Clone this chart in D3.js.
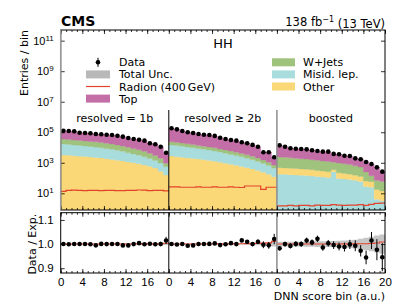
<!DOCTYPE html>
<html>
<head>
<meta charset="utf-8">
<script src="https://cdn.jsdelivr.net/npm/d3@7"></script>
<style>
    body { margin: 0; background: #fff; }
    svg { font-family: "DejaVu Sans", sans-serif; }
</style>
</head>
<body>
<div id="chart"></div>
<script>
/*
    Stacked DNN score histogram (three categories side by side) with a data / expectation ratio panel
 */

const categories = ["resolved = 1b", "resolved \u2265 2b", "boosted"];
const nBins = 20;
const xTickLabels = ["0", "4", "8", "12", "16", "0", "4", "8", "12", "16", "0", "4", "8", "12", "16", "20"];
const yTicks = [1e1, 1e3, 1e5, 1e7, 1e9, 1e11];
const ratioTicks = [0.9, 1.0, 1.1];

// expected yields per bin (1b | >=2b | boosted)
const other = [
    3240, 3090, 2880, 2690, 2570, 2400, 2240, 2040, 1860, 1660, 1480, 1320, 1120, 1000, 851, 724, 603, 447, 282, 158,
    2750, 2510, 2290, 2090, 1905, 1740, 1585, 1413, 1259, 1096, 933, 794, 676, 575, 479, 398, 316, 240, 178, 123,
    301, 283, 271, 259, 247, 227, 212, 190, 171, 153, 92, 129, 113, 99, 84, 66, 35, 33, 14, 11
];
const misid = [
    13700, 12800, 11900, 11100, 10000, 9350, 8480, 7510, 6650, 5930, 5130, 4300, 3450, 2800, 2310, 1790, 1310, 960, 673, 392,
    12000, 10980, 9730, 8630, 7650, 6770, 6000, 5350, 4630, 3920, 3240, 2750, 2280, 1880, 1520, 1190, 914, 672, 483, 314,
    178, 174, 166, 158, 151, 145, 135, 126, 117, 110, 263, 95, 87, 79, 71, 60, 28, 25, 4, 3.2
];
const wjets = [
    18500, 17300, 16100, 15000, 14300, 13400, 12700, 11800, 10500, 9390, 8180, 6970, 5660, 4710, 3920, 3110, 2260, 1610, 1045, 383,
    9200, 8390, 7480, 6660, 5940, 5290, 4710, 4200, 3660, 3120, 2750, 2340, 1950, 1620, 1320, 1045, 812, 602, 435, 271,
    1920, 1834, 1701, 1578, 1464, 1366, 1238, 1129, 1030, 939, 741, 753, 671, 581, 491, 399, 188, 83, 53, 46
];
const topQuark = [
    90400, 87100, 83900, 64500, 62200, 60000, 54600, 52700, 50200, 49100, 44100, 39000, 31700, 27800, 25200, 22600, 14900, 13200, 9200, 3570,
    158000, 133300, 100700, 83300, 74100, 63800, 56900, 55100, 47800, 35700, 29400, 24900, 23300, 17500, 15550, 12160, 9070, 3400, 3830, 1535,
    11650, 8930, 6840, 6320, 6080, 5740, 4980, 4320, 4130, 4150, 2720, 2690, 2045, 1995, 1318, 1224, 935, 679, 442, 218
];
const radion = [
    13.5, 15.5, 16, 15.5, 15, 15.5, 15.5, 15, 15.5, 15.5, 15, 15, 15.5, 15.5, 16.5, 16, 15, 15.5, 15.5, 14.5,
    26, 26, 25, 25, 25, 26, 25, 25, 26, 25, 25, 26, 25, 24, 30, 30, 30, 18, 25, 25,
    1.5, 1.5, 1.6, 1.5, 1.6, 1.6, 1.5, 1.7, 1.6, 1.6, 1.8, 1.7, 1.6, 1.7, 1.7, 1.8, 1.6, 1.9, 2.2, 2.3
];
const observed = [
    125900, 120200, 114800, 93300, 89100, 85100, 77600, 74100, 69200, 66100, 58900, 51300, 41700, 36300, 32400, 28200, 19100, 16200, 11200, 4570,
    182000, 154900, 120200, 100000, 89100, 77600, 69200, 66100, 57500, 43650, 36300, 30900, 28200, 21900, 19050, 14790, 11220, 4900, 4900, 2290,
    13800, 11220, 8910, 8320, 7940, 7590, 6610, 5890, 5370, 5370, 3800, 3630, 2880, 2750, 1950, 1700, 1120, 832, 501, 263
];
// relative total uncertainty on the expectation
const totalUnc = [
    0.002, 0.002, 0.002, 0.002, 0.002, 0.002, 0.002, 0.002, 0.002, 0.002, 0.002, 0.002, 0.002, 0.002, 0.002, 0.002, 0.002, 0.003, 0.003, 0.004,
    0.002, 0.002, 0.002, 0.002, 0.002, 0.002, 0.002, 0.002, 0.002, 0.002, 0.002, 0.002, 0.002, 0.002, 0.003, 0.004, 0.005, 0.006, 0.008, 0.010,
    0.010, 0.010, 0.010, 0.010, 0.010, 0.011, 0.011, 0.012, 0.012, 0.012, 0.013, 0.014, 0.015, 0.016, 0.018, 0.022, 0.026, 0.030, 0.035, 0.040
];

const processes = {
    other: {values: other, label: "Other", color: "#fad777"},
    misid: {values: misid, label: "Misid. lep.", color: "#a9dcdc"},
    wjets: {values: wjets, label: "W+Jets", color: "#9fc27d"},
    top: {values: topQuark, label: "Top", color: "#c36ea6"}
};
// stacking order (bottom first) for each category
const stackOrder = [
    ["other", "misid", "wjets", "top"],
    ["other", "misid", "wjets", "top"],
    ["misid", "other", "wjets", "top"]
];
const radionColor = "#e2432d";

class StackPlot {
    constructor() {
        var self = this;
        self.width = 407;
        self.height = 305;
        self.left = 60.7;
        self.right = 385;
        self.main = {top: 30, bottom: 210};
        self.ratio = {top: 212.7, bottom: 273};
        self.init();
    }

    init() {
        var self = this;

        self.svg = d3.select("#chart").append("svg")
            .attr("width", self.width)
            .attr("height", self.height);

        self.xScale = d3.scaleLinear()
            .domain([0, categories.length * nBins])
            .range([self.left, self.right]);

        self.yScale = d3.scaleLog()
            .domain([0.805, 5e11])
            .range([self.main.bottom, self.main.top]);

        self.rScale = d3.scaleLinear()
            .domain([0.88, 1.13])
            .range([self.ratio.bottom, self.ratio.top]);

        let defs = self.svg.append("defs");
        defs.append("clipPath").attr("id", "clipMain")
            .append("rect")
            .attr("x", self.left).attr("y", self.main.top)
            .attr("width", self.right - self.left)
            .attr("height", self.main.bottom - self.main.top);
        defs.append("clipPath").attr("id", "clipRatio")
            .append("rect")
            .attr("x", self.left).attr("y", self.ratio.top)
            .attr("width", self.right - self.left)
            .attr("height", self.ratio.bottom - self.ratio.top);

        self.total = observed.map(function(d, g) {
            return other[g] + misid[g] + wjets[g] + topQuark[g];
        });

        self.drawMain();
        self.drawRatio();
        self.drawAxes();
        self.drawLegend();
        self.drawLabels();
    }

    // points for a step drawing of one category
    stepPoints(k, lo, hi) {
        let pts = d3.range(nBins).map(function(i) {
            return {x: k * nBins + i, lo: lo[i], hi: hi[i]};
        });
        pts.push({x: (k + 1) * nBins, lo: lo[nBins - 1], hi: hi[nBins - 1]});
        return pts;
    }

    drawMain() {
        var self = this;
        let g = self.svg.append("g").attr("clip-path", "url(#clipMain)");
        let yMin = self.yScale.domain()[0];

        let area = d3.area()
            .curve(d3.curveStepAfter)
            .x(function(d) { return self.xScale(d.x); })
            .y0(function(d) { return self.yScale(Math.max(d.lo, yMin)); })
            .y1(function(d) { return self.yScale(Math.max(d.hi, yMin)); });

        categories.forEach(function(c, k) {
            let cum = d3.range(nBins).map(function() { return 0; });
            stackOrder[k].forEach(function(p) {
                let vals = processes[p].values.slice(k * nBins, (k + 1) * nBins);
                let hi = cum.map(function(v, i) { return v + vals[i]; });
                g.append("path")
                    .datum(self.stepPoints(k, cum, hi))
                    .attr("d", area)
                    .attr("fill", processes[p].color)
                    .attr("stroke", processes[p].color)
                    .attr("stroke-width", 0.3);
                cum = hi;
            });
        });

        let line = d3.line()
            .curve(d3.curveStepAfter)
            .x(function(d) { return self.xScale(d.x); })
            .y(function(d) { return self.yScale(d.hi); });

        categories.forEach(function(c, k) {
            let vals = radion.slice(k * nBins, (k + 1) * nBins);
            g.append("path")
                .datum(self.stepPoints(k, vals, vals))
                .attr("d", line)
                .attr("fill", "none")
                .attr("stroke", radionColor)
                .attr("stroke-width", 1.2);
        });

        g.selectAll(".dataPoint")
            .data(observed)
            .enter().append("circle")
            .attr("class", "dataPoint")
            .attr("cx", function(d, i) { return self.xScale(i + 0.5); })
            .attr("cy", function(d) { return self.yScale(d); })
            .attr("r", 2.3)
            .attr("fill", "#000");

        // category separators start below the legend
        self.drawSeparators(110, self.main.bottom);
    }

    drawSeparators(y1, y2) {
        var self = this;
        let colors = ["#000", "#8c8c8c"];
        [1, 2].forEach(function(k, j) {
            self.svg.append("line")
                .attr("x1", self.xScale(k * nBins)).attr("x2", self.xScale(k * nBins))
                .attr("y1", y1).attr("y2", y2)
                .attr("stroke", colors[j])
                .attr("stroke-width", j === 0 ? 1 : 1.5);
        });
    }

    drawRatio() {
        var self = this;
        let g = self.svg.append("g").attr("clip-path", "url(#clipRatio)");

        let band = d3.area()
            .curve(d3.curveStepAfter)
            .x(function(d) { return self.xScale(d.x); })
            .y0(function(d) { return self.rScale(d.lo); })
            .y1(function(d) { return self.rScale(d.hi); });

        let line = d3.line()
            .curve(d3.curveStepAfter)
            .x(function(d) { return self.xScale(d.x); })
            .y(function(d) { return self.rScale(d.hi); });

        categories.forEach(function(c, k) {
            let u = totalUnc.slice(k * nBins, (k + 1) * nBins);
            g.append("path")
                .datum(self.stepPoints(k, u.map(function(v) { return 1 - v; }), u.map(function(v) { return 1 + v; })))
                .attr("d", band)
                .attr("fill", "#b8b8b8")
                .attr("opacity", 0.8);
        });

        categories.forEach(function(c, k) {
            let sig = d3.range(nBins).map(function(i) {
                let gi = k * nBins + i;
                return (self.total[gi] + radion[gi]) / self.total[gi];
            });
            g.append("path")
                .datum(self.stepPoints(k, sig, sig))
                .attr("d", line)
                .attr("fill", "none")
                .attr("stroke", radionColor)
                .attr("stroke-width", 1.1);
        });

        let ratioData = observed.map(function(d, i) {
            return {x: i + 0.5, r: d / self.total[i], err: Math.sqrt(d) / self.total[i]};
        });

        g.selectAll(".errBar")
            .data(ratioData)
            .enter().append("line")
            .attr("class", "errBar")
            .attr("x1", function(d) { return self.xScale(d.x); })
            .attr("x2", function(d) { return self.xScale(d.x); })
            .attr("y1", function(d) { return self.rScale(d.r - d.err); })
            .attr("y2", function(d) { return self.rScale(d.r + d.err); })
            .attr("stroke", "#000")
            .attr("stroke-width", 1);

        g.selectAll(".ratioPoint")
            .data(ratioData)
            .enter().append("circle")
            .attr("class", "ratioPoint")
            .attr("cx", function(d) { return self.xScale(d.x); })
            .attr("cy", function(d) { return self.rScale(d.r); })
            .attr("r", 2.3)
            .attr("fill", "#000");

        self.drawSeparators(self.ratio.top, self.ratio.bottom);
    }

    drawAxes() {
        var self = this;
        let xTicks = d3.range(0, categories.length * nBins + 1, 4);
        let minorX = d3.range(0, categories.length * nBins + 1, 1);

        // main panel
        let yLeft = self.svg.append("g")
            .attr("transform", "translate(" + self.left + ",0)")
            .call(d3.axisLeft(self.yScale).tickValues(yTicks).tickSize(-4).tickPadding(7));
        yLeft.selectAll(".tick text").each(function(d) {
            let t = d3.select(this).text("").attr("font-size", "11px");
            t.append("tspan").text("10");
            t.append("tspan").attr("dy", "-0.5em").attr("font-size", "8px").text(Math.round(Math.log10(d)));
        });
        self.svg.append("g")
            .attr("transform", "translate(" + self.right + ",0)")
            .call(d3.axisRight(self.yScale).tickValues(yTicks).tickSize(-4).tickFormat(""));

        [self.main, self.ratio].forEach(function(p, j) {
            self.svg.append("g")
                .attr("transform", "translate(0," + p.top + ")")
                .call(d3.axisTop(self.xScale).tickValues(xTicks).tickSize(-4).tickFormat(""));
            self.svg.append("g")
                .attr("transform", "translate(0," + p.top + ")")
                .call(d3.axisTop(self.xScale).tickValues(minorX).tickSize(-2).tickFormat(""));
            let bottom = self.svg.append("g")
                .attr("transform", "translate(0," + p.bottom + ")")
                .call(d3.axisBottom(self.xScale).tickValues(xTicks).tickSize(-4).tickPadding(5)
                    .tickFormat(function(d, i) { return j === 1 ? xTickLabels[i] : ""; }));
            bottom.selectAll("text").attr("font-size", "11.5px");
            self.svg.append("g")
                .attr("transform", "translate(0," + p.bottom + ")")
                .call(d3.axisBottom(self.xScale).tickValues(minorX).tickSize(-2).tickFormat(""));
        });

        // ratio panel
        let rLeft = self.svg.append("g")
            .attr("transform", "translate(" + self.left + ",0)")
            .call(d3.axisLeft(self.rScale).tickValues(ratioTicks).tickSize(-4).tickPadding(7)
                .tickFormat(d3.format(".1f")));
        rLeft.selectAll("text").attr("font-size", "11.5px");
        self.svg.append("g")
            .attr("transform", "translate(" + self.right + ",0)")
            .call(d3.axisRight(self.rScale).tickValues(ratioTicks).tickSize(-4).tickFormat(""));

        self.svg.selectAll(".domain").remove();
        self.svg.selectAll(".tick line").attr("stroke", "#000").attr("stroke-width", 0.8);

        // frames
        [self.main, self.ratio].forEach(function(p) {
            self.svg.append("rect")
                .attr("x", self.left).attr("y", p.top)
                .attr("width", self.right - self.left)
                .attr("height", p.bottom - p.top)
                .attr("fill", "none")
                .attr("stroke", "#000")
                .attr("stroke-width", 1);
        });
        self.svg.append("line")
            .attr("x1", self.left).attr("x2", self.left)
            .attr("y1", self.main.top).attr("y2", self.main.bottom)
            .attr("stroke", "#9a9a9a")
            .attr("stroke-width", 1.5);
    }

    drawLegend() {
        var self = this;
        let rowY = [62.3, 74.4, 86.5, 98.6];
        let lg = self.svg.append("g").attr("font-size", "11px");

        // data marker
        lg.append("line")
            .attr("x1", 98).attr("x2", 98)
            .attr("y1", rowY[0] - 4.5).attr("y2", rowY[0] + 4.5)
            .attr("stroke", "#000");
        lg.append("circle").attr("cx", 98).attr("cy", rowY[0]).attr("r", 2.3);
        // total uncertainty
        lg.append("rect")
            .attr("x", 86).attr("y", rowY[1] - 4)
            .attr("width", 24).attr("height", 8)
            .attr("fill", "#b8b8b8");
        // radion line
        lg.append("line")
            .attr("x1", 86).attr("x2", 110)
            .attr("y1", rowY[2]).attr("y2", rowY[2])
            .attr("stroke", radionColor)
            .attr("stroke-width", 1.2);
        lg.append("rect")
            .attr("x", 86).attr("y", rowY[3] - 4)
            .attr("width", 24).attr("height", 8)
            .attr("fill", processes.top.color);

        let leftLabels = ["Data", "Total Unc.", "Radion (400\u2009GeV)", processes.top.label];
        leftLabels.forEach(function(t, i) {
            lg.append("text").attr("x", 119).attr("y", rowY[i] + 4).text(t);
        });

        ["wjets", "misid", "other"].forEach(function(p, i) {
            lg.append("rect")
                .attr("x", 272).attr("y", rowY[i] - 4)
                .attr("width", 23).attr("height", 8)
                .attr("fill", processes[p].color);
            lg.append("text").attr("x", 303).attr("y", rowY[i] + 4).text(processes[p].label);
        });
    }

    drawLabels() {
        var self = this;

        self.svg.append("text")
            .attr("x", 61).attr("y", 26)
            .attr("font-size", "14px")
            .attr("font-weight", "bold")
            .text("CMS");

        let lumi = self.svg.append("text")
            .attr("x", self.right).attr("y", 26)
            .attr("text-anchor", "end")
            .attr("font-size", "11.5px");
        lumi.append("tspan").text("138 fb");
        lumi.append("tspan").attr("dy", "-0.45em").attr("font-size", "8px").text("\u22121");
        lumi.append("tspan").attr("dy", "0.45em").text(" (13 TeV)");

        self.svg.append("text")
            .attr("x", 223).attr("y", 48)
            .attr("text-anchor", "middle")
            .attr("font-size", "13px")
            .text("HH");

        categories.forEach(function(c, k) {
            self.svg.append("text")
                .attr("x", self.xScale(k * nBins + nBins / 2))
                .attr("y", 122)
                .attr("text-anchor", "middle")
                .attr("font-size", "11px")
                .text(c);
        });

        self.svg.append("text")
            .attr("transform", "translate(28," + self.main.top + ") rotate(-90)")
            .attr("text-anchor", "end")
            .attr("font-size", "11px")
            .text("Entries / bin");

        self.svg.append("text")
            .attr("transform", "translate(35.5," + (self.ratio.top + 1) + ") rotate(-90)")
            .attr("text-anchor", "end")
            .attr("font-size", "11px")
            .text("Data / Exp.");

        self.svg.append("text")
            .attr("x", self.right).attr("y", 300)
            .attr("text-anchor", "end")
            .attr("font-size", "11px")
            .text("DNN score bin (a.u.)");
    }
}

new StackPlot();
</script>
</body>
</html>
